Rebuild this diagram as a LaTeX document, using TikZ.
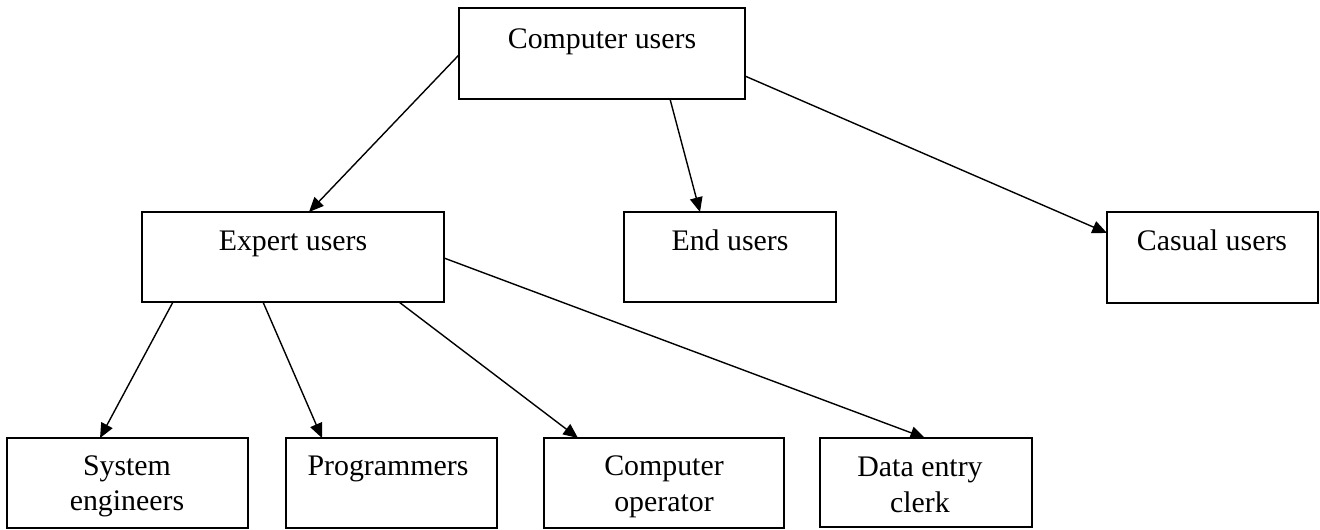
\documentclass[tikz,border=0pt]{standalone}
\usepackage{fontspec}
\setmainfont{Liberation Serif}
\usetikzlibrary{arrows.meta}
\tikzset{
  box/.style={draw=black, line width=1.2pt, rectangle, inner sep=0pt, outer sep=0pt, fill=white},
  lbl/.style={inner sep=0pt, outer sep=0pt, anchor=base, font=\fontsize{22.4}{27}\selectfont},
  arr/.style={draw=black, line width=1.05pt, -{Triangle[length=11pt,width=9.5pt]}},
}
\begin{document}
\begin{tikzpicture}[x=0.75pt, y=-0.75pt]
\useasboundingbox (0,0) rectangle (1320,529);
% boxes
\node[box, minimum width={286*0.75pt}, minimum height={91*0.75pt}] (cu) at (602,53.5) {};
\node[box, minimum width={302*0.75pt}, minimum height={90*0.75pt}] (eu) at (293,257) {};
\node[box, minimum width={212*0.75pt}, minimum height={90*0.75pt}] (en) at (730,257) {};
\node[box, minimum width={211*0.75pt}, minimum height={91*0.75pt}] (ca) at (1212.5,257.5) {};
\node[box, minimum width={241*0.75pt}, minimum height={90*0.75pt}] (se) at (127.5,483) {};
\node[box, minimum width={211*0.75pt}, minimum height={90*0.75pt}] (pr) at (391.5,483) {};
\node[box, minimum width={240*0.75pt}, minimum height={90*0.75pt}] (co) at (664,483) {};
\node[box, minimum width={212*0.75pt}, minimum height={89*0.75pt}] (de) at (926,482.5) {};
% labels
\node[lbl] (tcu) at (602,48) {Computer users};
\node[lbl] (teu) at (293,250) {Expert users};
\node[lbl] (ten) at (730,250) {End users};
\node[lbl] (tca) at (1212,250) {Casual users};
\node[lbl] (tse1) at (127,475) {System};
\node[lbl] (tse2) at (127,510) {engineers};
\node[lbl] (tpr) at (388,475) {Programmers};
\node[lbl] (tco1) at (664,475) {Computer};
\node[lbl] (tco2) at (664,511) {operator};
\node[lbl] (tde1) at (920,476) {Data entry};
\node[lbl] (tde2) at (920,512) {clerk};
% connectors
\draw[arr] ([yshift=-1pt]cu.west) -- ([xshift=12pt]eu.north);
\draw[arr] ([xshift=51pt]cu.south) -- ([xshift=-22.5pt]en.north);
\draw[arr] ([yshift=-16.9pt]cu.east) -- ([yshift=18.4pt]ca.west);
\draw[arr] ([xshift=23.25pt]eu.south west) -- ([xshift=-20.6pt]se.north);
\draw[arr] ([xshift=90.75pt]eu.south west) -- ([xshift=27pt]pr.north west);
\draw[arr] ([xshift=192.75pt]eu.south west) -- ([xshift=25.5pt]co.north west);
\draw[arr] ([yshift=-0.75pt]eu.east) -- ([xshift=-0.75pt]de.north);
\end{tikzpicture}
\end{document}
